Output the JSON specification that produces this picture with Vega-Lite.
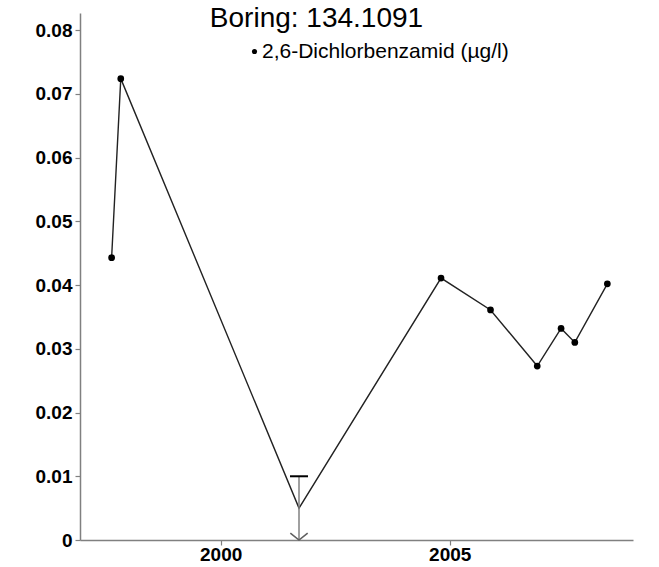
{
  "$schema": "https://vega.github.io/schema/vega-lite/v6.json",
  "autosize": "none",
  "width": 553,
  "height": 527,
  "padding": {"left": 80, "top": 13, "right": 26, "bottom": 27},
  "background": "white",
  "title": {
    "text": "Boring: 134.1091",
    "font": "Liberation Sans",
    "fontSize": 28,
    "fontWeight": "normal",
    "color": "black",
    "anchor": "middle",
    "baseline": "alphabetic",
    "offset": -14,
    "dx": -40,
    "dy": 28
  },
  "config": {
    "view": {"stroke": null},
    "axis": {
      "grid": false,
      "domainColor": "#808080",
      "domainWidth": 1.5,
      "tickColor": "#808080",
      "tickWidth": 1.2,
      "tickSize": 5,
      "labelFont": "Liberation Sans",
      "labelFontSize": 19,
      "labelFontWeight": "bold",
      "labelColor": "black",
      "title": null
    }
  },
  "data": {
    "values": [
      {"year": 1997.62, "value": 0.0443, "bdl": false, "lo": null, "hi": null, "param": "2,6-Dichlorbenzamid (µg/l)"},
      {"year": 1997.82, "value": 0.0724, "bdl": false, "lo": null, "hi": null, "param": "2,6-Dichlorbenzamid (µg/l)"},
      {"year": 2001.71, "value": 0.005, "bdl": true, "lo": 0, "hi": 0.01, "param": "2,6-Dichlorbenzamid (µg/l)"},
      {"year": 2004.81, "value": 0.0411, "bdl": false, "lo": null, "hi": null, "param": "2,6-Dichlorbenzamid (µg/l)"},
      {"year": 2005.89, "value": 0.0361, "bdl": false, "lo": null, "hi": null, "param": "2,6-Dichlorbenzamid (µg/l)"},
      {"year": 2006.91, "value": 0.0273, "bdl": false, "lo": null, "hi": null, "param": "2,6-Dichlorbenzamid (µg/l)"},
      {"year": 2007.43, "value": 0.0332, "bdl": false, "lo": null, "hi": null, "param": "2,6-Dichlorbenzamid (µg/l)"},
      {"year": 2007.73, "value": 0.031, "bdl": false, "lo": null, "hi": null, "param": "2,6-Dichlorbenzamid (µg/l)"},
      {"year": 2008.44, "value": 0.0402, "bdl": false, "lo": null, "hi": null, "param": "2,6-Dichlorbenzamid (µg/l)"}
    ]
  },
  "encoding": {
    "x": {
      "field": "year",
      "type": "quantitative",
      "scale": {"domain": [1996.93, 2009.0], "nice": false, "zero": false},
      "axis": {"values": [2000, 2005], "format": "d", "labelPadding": 0}
    }
  },
  "layer": [
    {
      "mark": {"type": "line", "color": "#222222", "strokeWidth": 1.4},
      "encoding": {
        "y": {
          "field": "value",
          "type": "quantitative",
          "scale": {"domain": [0, 0.0827], "nice": false},
          "axis": {"values": [0, 0.01, 0.02, 0.03, 0.04, 0.05, 0.06, 0.07, 0.08], "format": ".2~f", "labelPadding": 3}
        }
      }
    },
    {
      "transform": [{"filter": "datum.bdl"}],
      "mark": {"type": "rule", "color": "#808080", "strokeWidth": 1.5},
      "encoding": {
        "y": {"field": "lo", "type": "quantitative"},
        "y2": {"field": "hi"}
      }
    },
    {
      "transform": [{"filter": "datum.bdl"}],
      "mark": {"type": "tick", "orient": "horizontal", "color": "black", "thickness": 2, "size": 18, "opacity": 1},
      "encoding": {
        "y": {"field": "hi", "type": "quantitative"}
      }
    },
    {
      "transform": [{"filter": "datum.bdl"}],
      "mark": {"type": "point", "shape": "M-1,-0.8L0,0L1,-0.8", "filled": false, "color": "#606060", "strokeWidth": 1.6, "size": 300, "opacity": 1},
      "encoding": {
        "y": {"field": "lo", "type": "quantitative"}
      }
    },
    {
      "transform": [{"filter": "!datum.bdl"}],
      "mark": {"type": "point", "filled": true, "shape": "circle", "size": 45, "opacity": 1},
      "encoding": {
        "y": {"field": "value", "type": "quantitative"},
        "color": {
          "field": "param",
          "type": "nominal",
          "scale": {"domain": ["2,6-Dichlorbenzamid (µg/l)"], "range": ["black"]},
          "legend": {
            "title": null,
            "orient": "none",
            "legendX": 164,
            "legendY": 28,
            "padding": 0,
            "symbolSize": 26,
            "symbolType": "circle",
            "symbolOpacity": 1,
            "labelFont": "Liberation Sans",
            "labelFontSize": 21,
            "labelColor": "black",
            "labelOffset": -3,
            "labelLimit": 500
          }
        }
      }
    }
  ]
}
